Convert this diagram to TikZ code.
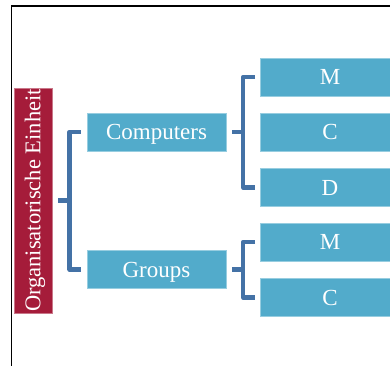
\documentclass[tikz,border=0pt]{standalone}
\usepackage{fontspec}
\setmainfont{Liberation Serif}
\definecolor{unitred}{HTML}{A51C3A}
\definecolor{boxblue}{HTML}{52ABCB}
\definecolor{brackblue}{HTML}{4472A6}
\begin{document}
\begin{tikzpicture}[x=1pt,y=-1pt,
  box/.style={fill=boxblue,draw=boxblue!60!white,line width=0.6pt,text=white,
    minimum width=139pt,minimum height=38pt,inner sep=0pt,
    text height=15.2pt,text depth=0pt,
    font=\fontsize{23}{26}\selectfont},
  unit/.style={fill=unitred,draw=unitred!60!white,line width=0.6pt,text=white,
    minimum width=225pt,minimum height=38pt,inner sep=0pt,rotate=90,
    text height=14.9pt,text depth=0pt,
    font=\fontsize{22.5}{26}\selectfont},
  brk/.style={draw=brackblue,line width=4.5pt,line join=round}]
\useasboundingbox (0,0) rectangle (390,365);
% frame
\draw[line width=1.3pt] (11.5,370) -- (11.5,6) -- (400,6);
% units
\node[unit] (root) at (33,200.5) {Organisatorische Einheit};
\node[box] (comp) at (156.5,132) {Computers};
\node[box] (grp)  at (156.5,269.5) {Groups};
\node[box] (m1) at (330,77) {M};
\node[box] (c1) at (330,132) {C};
\node[box] (d)  at (330,187.5) {D};
\node[box] (m2) at (330,242) {M};
\node[box] (c2) at (330,297.5) {C};
% brackets
\draw[brk] ([xshift=6pt]root.south) -- ++(12,0);
\draw[brk] ([xshift=-6pt]comp.west) -- ++(-11,0) |- ([xshift=-6pt]grp.west);
\draw[brk] ([xshift=6pt]comp.east) -- ++(11,0);
\draw[brk] ([xshift=-5pt]m1.west) -- ++(-12,0) |- ([xshift=-5pt]d.west);
\draw[brk] ([xshift=6pt]grp.east) -- ++(11,0);
\draw[brk] ([xshift=-5pt]m2.west) -- ++(-12,0) |- ([xshift=-5pt]c2.west);
\end{tikzpicture}
\end{document}
